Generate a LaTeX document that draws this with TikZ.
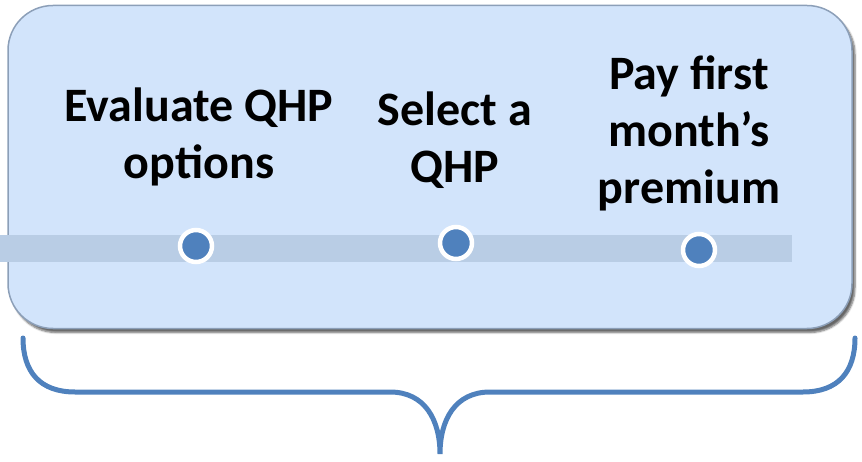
\documentclass[tikz,border=0pt]{standalone}
\usepackage{fontspec}
\setmainfont{Carlito}
\usetikzlibrary{shadows.blur}
\definecolor{boxfill}{HTML}{D2E4FB}
\definecolor{boxline}{HTML}{8C9FB8}
\definecolor{barfill}{HTML}{B9CDE5}
\definecolor{dotblue}{HTML}{4F81BD}
\tikzset{
  steptext/.style={align=center,font=\fontsize{48}{57}\selectfont\bfseries},
  stepdot/.style={circle,fill=dotblue,draw=white,line width=4.5pt,minimum size=32pt,inner sep=0pt},
}

\begin{document}
\begin{tikzpicture}[x=1pt,y=-1pt]
  \useasboundingbox (0,0) rectangle (862,462);
  % Rounded panel behind the timeline
  \node[rounded corners=45pt,minimum width=844pt,minimum height=323pt,
        fill=boxfill,draw=boxline,line width=1.5pt,
        blur shadow={shadow xshift=3pt,shadow yshift=-4pt,shadow opacity=60,shadow blur steps=6}] (panel) at (430,167) {};
  % Timeline bar
  \coordinate (barL) at (0,248.5);
  \coordinate (barR) at (792,248.5);
  \draw[barfill,line width=27pt] (barL) -- (barR);
  % Steps
  \node[stepdot] (d1) at (196,246) {};
  \node[stepdot] (d2) at (456,243) {};
  \node[stepdot] (d3) at (699,250) {};
  \node[steptext] (s1) at (199,137) {Evaluate QHP\\options};
  \node[steptext] (s2) at (455,140) {Select a\\QHP};
  \node[steptext] (s3) at (689,133) {Pay first\\month’s\\premium};
  % Brace below the panel
  \coordinate (braceL) at (23,338);
  \coordinate (braceT) at (440,454);
  \coordinate (braceR) at (855,338);
  \draw[dotblue,line width=5pt,line cap=round]
    (braceL) .. controls (23,372) and (40,392) .. (75,392) -- (390,392)
    .. controls (425,392) and (440,420) .. (braceT)
    .. controls (440,420) and (455,392) .. (490,392) -- (803,392)
    .. controls (838,392) and (855,372) .. (braceR);
\end{tikzpicture}
\end{document}
